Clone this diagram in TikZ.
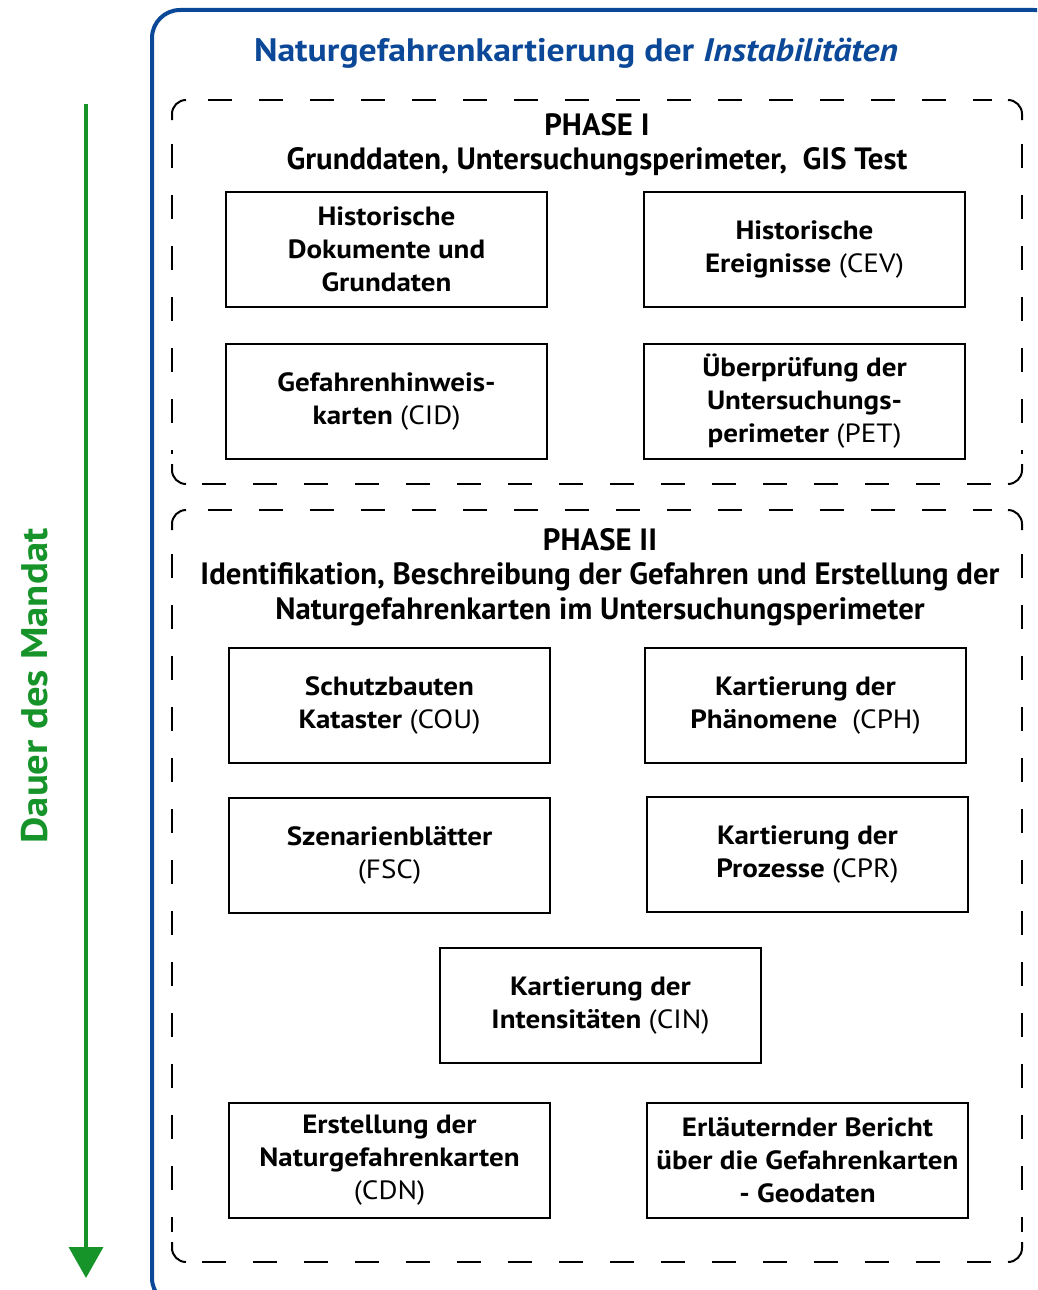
\documentclass[tikz,border=0pt]{standalone}
\usepackage{fontspec}
\setmainfont{PT Sans}
\newfontfamily\wideont[FakeStretch=1.1]{PT Sans}
\usetikzlibrary{arrows.meta}
\definecolor{frameblue}{RGB}{12,72,152}
\definecolor{mgreen}{RGB}{22,148,42}
\tikzset{
  taskbox/.style={draw=black, line width=2pt, minimum width=321pt, minimum height=115pt,
    align=center, inner sep=0pt, font=\wideont\fontsize{26.4}{33}\selectfont\bfseries},
  dashside/.style={draw=black, line width=2pt, dash pattern=on 24pt off 27pt},
  cornerarc/.style={draw=black, line width=2pt, rounded corners=14pt},
  heading/.style={align=center, inner sep=0pt, font=\fontsize{30.8}{34.5}\selectfont\bfseries}
}
\newcommand{\ab}[1]{\mdseries #1}
% phase frame: solid corner arcs, dashed sides
\newcommand{\phaseframe}[4]{%
  \draw[cornerarc] ({#1},{#2+20}) -- ({#1},{#2}) -- ({#1+14},{#2});
  \draw[cornerarc] ({#3-14},{#2}) -- ({#3},{#2}) -- ({#3},{#2+20});
  \draw[cornerarc] ({#3},{#4-20}) -- ({#3},{#4}) -- ({#3-14},{#4});
  \draw[cornerarc] ({#1+14},{#4}) -- ({#1},{#4}) -- ({#1},{#4-20});
  \draw[dashside] ({#1+36},{#2}) -- ({#3-30},{#2});
  \draw[dashside] ({#1+30},{#4}) -- ({#3-30},{#4});
  \draw[dashside] ({#1},{#2+44}) -- ({#1},{#4-30});
  \draw[dashside] ({#3},{#2+44}) -- ({#3},{#4-30});
}
\begin{document}
\begin{tikzpicture}[x=1pt,y=-1pt]
\useasboundingbox (0,0) rectangle (1037,1290);
\fill[white] (0,0) rectangle (1037,1290);
\clip (0,0) rectangle (1037,1290);
% blue frame
\draw[frameblue, line width=4pt, rounded corners=28pt] (152,10) rectangle (1062,1306);
\node[frameblue, font=\wideont\fontsize{32.5}{38}\selectfont\bfseries, inner sep=0pt] (title) at (576,53)
  {Naturgefahrenkartierung der \textit{Instabilitäten}};
% green arrow
\coordinate (gstart) at (86,104);
\coordinate (gend) at (86,1278);
\draw[mgreen, line width=3.5pt, -{Triangle[width=34pt,length=31pt]}] (gstart) -- (gend);
\node[mgreen, rotate=90, font=\wideont\fontsize{37}{42}\selectfont\bfseries, inner sep=0pt] (dauer) at (35,686) {Dauer des Mandat};
% phase frames
\phaseframe{172}{100}{1022}{484}
\phaseframe{172}{510}{1022}{1262}
\node[heading] (p1) at (597,145) {PHASE I\\Grunddaten, Untersuchungsperimeter,\ \ GIS Test};
\node[heading] (p2) at (600,577) {PHASE II\\Identifikation, Beschreibung der Gefahren und Erstellung der\\Naturgefahrenkarten im Untersuchungsperimeter};
% phase I boxes
\node[taskbox] (b1) at (386.5,249.5) {Historische\\Dokumente und\\Grundaten};
\node[taskbox] (b2) at (804.5,249.5) {Historische\\Ereignisse \ab{(CEV)}};
\node[taskbox] (b3) at (386.5,401.5) {Gefahrenhinweis-\\karten \ab{(CID)}};
\node[taskbox] (b4) at (804.5,401.5) {Überprüfung der\\Untersuchungs-\\perimeter \ab{(PET)}};
% phase II boxes
\node[taskbox] (b5) at (389.5,705.5) {Schutzbauten\\Kataster \ab{(COU)}};
\node[taskbox] (b6) at (805.5,705.5) {Kartierung der\\Phänomene\ \ \ab{(CPH)}};
\node[taskbox] (b7) at (389.5,855.5) {Szenarienblätter\\\ab{(FSC)}};
\node[taskbox] (b8) at (807.5,854.5) {Kartierung der\\Prozesse \ab{(CPR)}};
\node[taskbox] (b9) at (600.5,1005.5) {Kartierung der\\Intensitäten \ab{(CIN)}};
\node[taskbox] (b10) at (389.5,1160.5) {Erstellung der\\Naturgefahrenkarten\\\ab{(CDN)}};
\node[taskbox] (b11) at (807.5,1160.5) {Erläuternder Bericht\\über die Gefahrenkarten\\- Geodaten};
\end{tikzpicture}
\end{document}
